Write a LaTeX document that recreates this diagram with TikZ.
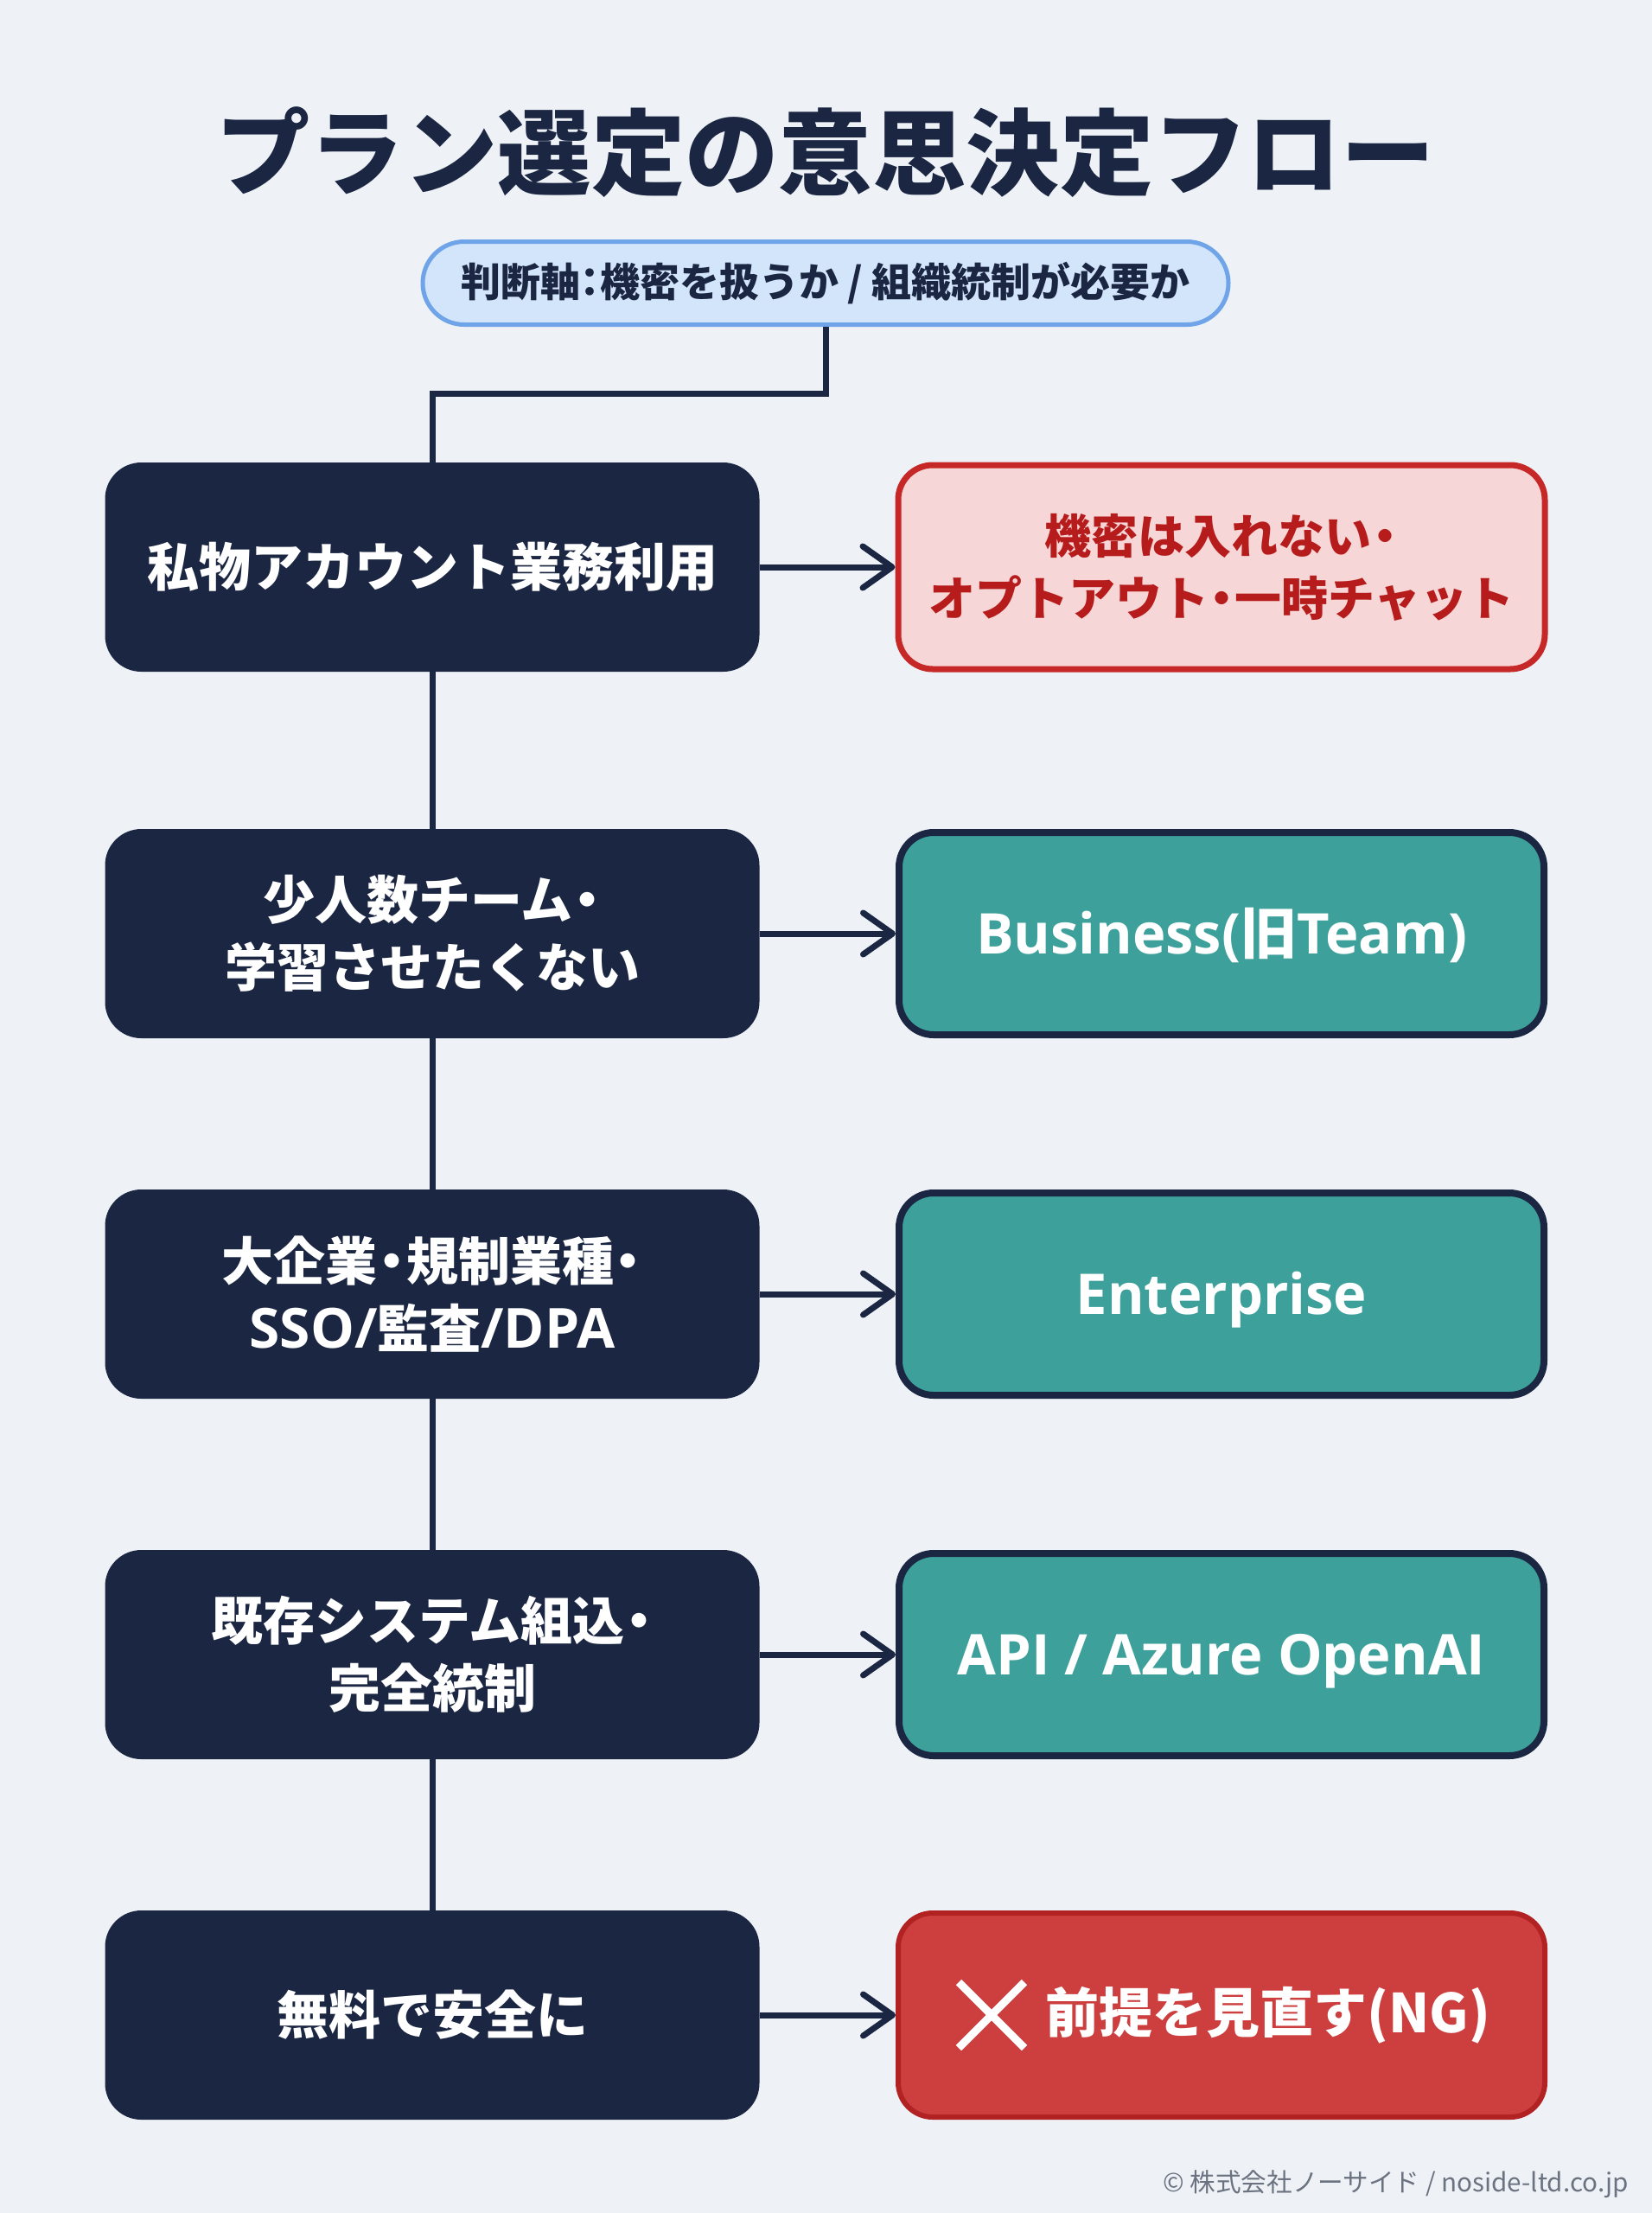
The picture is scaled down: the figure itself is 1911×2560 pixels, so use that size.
\documentclass[tikz,border=0pt]{standalone}
\usepackage{fontspec}
\setmainfont{Open Sans}
\newfontfamily\os{Open Sans}
\newfontfamily\jp{Noto Sans CJK JP}
\usetikzlibrary{arrows.meta,positioning}
\newcommand{\mdot}{\kern-0.22em・\kern-0.22em}
\newcommand{\hcolon}{\kern-0.25em：\kern-0.25em}
\definecolor{bgc}{HTML}{EEF2F7}
\definecolor{navy}{HTML}{1B2642}
\definecolor{tealbox}{HTML}{3DA09B}
\definecolor{pillfill}{HTML}{D3E5FA}
\definecolor{pillborder}{HTML}{6FA5E8}
\definecolor{pinkfill}{HTML}{F6D6D6}
\definecolor{redborder}{HTML}{C62828}
\definecolor{redtext}{HTML}{B71C1C}
\definecolor{ngfill}{HTML}{CD3E3E}
\definecolor{ngborder}{HTML}{B22222}
\definecolor{footgray}{HTML}{6B7280}
\tikzset{
  leftbox/.style={fill=navy, rounded corners=21pt, minimum width=378.5pt, minimum height=121pt,
    text=white, font=\jp\bfseries\fontsize{30pt}{39pt}\selectfont, align=center, inner sep=0pt},
  rightbox/.style={draw=navy, line width=4pt, fill=tealbox, rounded corners=20pt,
    minimum width=373pt, minimum height=117pt, text=white,
    font=\os\bfseries\fontsize{32.5pt}{40pt}\selectfont, inner sep=0pt,
    text height=23.4pt, text depth=0pt},
  warnbox/.style={draw=redborder, line width=3.5pt, fill=pinkfill, rounded corners=20pt,
    minimum width=374pt, minimum height=118pt, text=redtext,
    font=\jp\bfseries\fontsize{27pt}{36pt}\selectfont, align=center, inner sep=0pt},
  ngbox/.style={draw=ngborder, line width=3pt, fill=ngfill, rounded corners=20pt,
    minimum width=374pt, minimum height=118pt, inner sep=0pt},
  conn/.style={draw=navy, line width=3.5pt},
  arr/.style={conn, -{Straight Barb[length=17pt,width=24pt,round]}},
}
\begin{document}
\begin{tikzpicture}[x=0.5pt,y=-0.5pt]
\useasboundingbox (0,0) rectangle (1911,2560);
\fill[bgc] (0,0) rectangle (1911,2560);

\node[text=navy, font=\jp\bfseries\fontsize{54.2pt}{60pt}\selectfont] (title) at (955,176) {プラン選定の意思決定フロー};

\node[draw=pillborder, line width=2.5pt, fill=pillfill, rounded corners=24pt,
  minimum width=466pt, minimum height=48pt, inner sep=0pt,
  text=navy, font=\jp\bfseries\fontsize{23pt}{26pt}\selectfont] (pill) at (955,327.5)
  {判断軸\hcolon 機密を扱うか / 組織統制が必要か};

\node[leftbox] (L1) at (500,656) {私物アカウント業務利用};
\node[leftbox] (L2) at (500,1080) {少人数チーム\mdot\\学習させたくない};
\node[leftbox] (L3) at (500,1497) {大企業\mdot 規制業種\mdot\\{\os\fontsize{32pt}{39pt}\selectfont SSO/}監査{\os\fontsize{32pt}{39pt}\selectfont /DPA}};
\node[leftbox] (L4) at (500,1914) {既存システム組込\mdot\\完全統制};
\node[leftbox] (L5) at (500,2331) {無料で安全に};

\node[warnbox] (R1) at (1413,656) {機密は入れない\mdot\\オプトアウト\mdot 一時チャット};
\node[rightbox] (R2) at (1413,1080) {Business({\jp 旧}Team)};
\node[rightbox] (R3) at (1413,1497) {Enterprise};
\node[rightbox] (R4) at (1413,1914) {API / Azure OpenAI};
\node[ngbox] (R5) at (1413,2331) {};
\node[text=white, font=\jp\bfseries\fontsize{31pt}{38pt}\selectfont, inner sep=0pt] (ngtext) at (1467,2331) {前提を見直す(NG)};
\coordinate (xa) at (1109,2293);
\coordinate (xb) at (1185,2369);
\coordinate (xc) at (1185,2293);
\coordinate (xd) at (1109,2369);
\draw[white, line width=4.5pt] (xa) -- (xb) (xc) -- (xd);

\coordinate (bend) at (955,455);
\draw[conn] (pill.south) -- (bend) -| (L1.north);
\draw[conn] (L1.south) -- (L2.north);
\draw[conn] (L2.south) -- (L3.north);
\draw[conn] (L3.south) -- (L4.north);
\draw[conn] (L4.south) -- (L5.north);

\draw[arr] (L1.east) -- (R1.west);
\draw[arr] (L2.east) -- (R2.west);
\draw[arr] (L3.east) -- (R3.west);
\draw[arr] (L4.east) -- (R4.west);
\draw[arr] (L5.east) -- (R5.west);

\node[anchor=east, text=footgray, font=\jp\fontsize{14.8pt}{18pt}\selectfont, inner sep=0pt] (foot) at (1884,2527) {© 株式会社ノーサイド / noside-ltd.co.jp};
\end{tikzpicture}
\end{document}
